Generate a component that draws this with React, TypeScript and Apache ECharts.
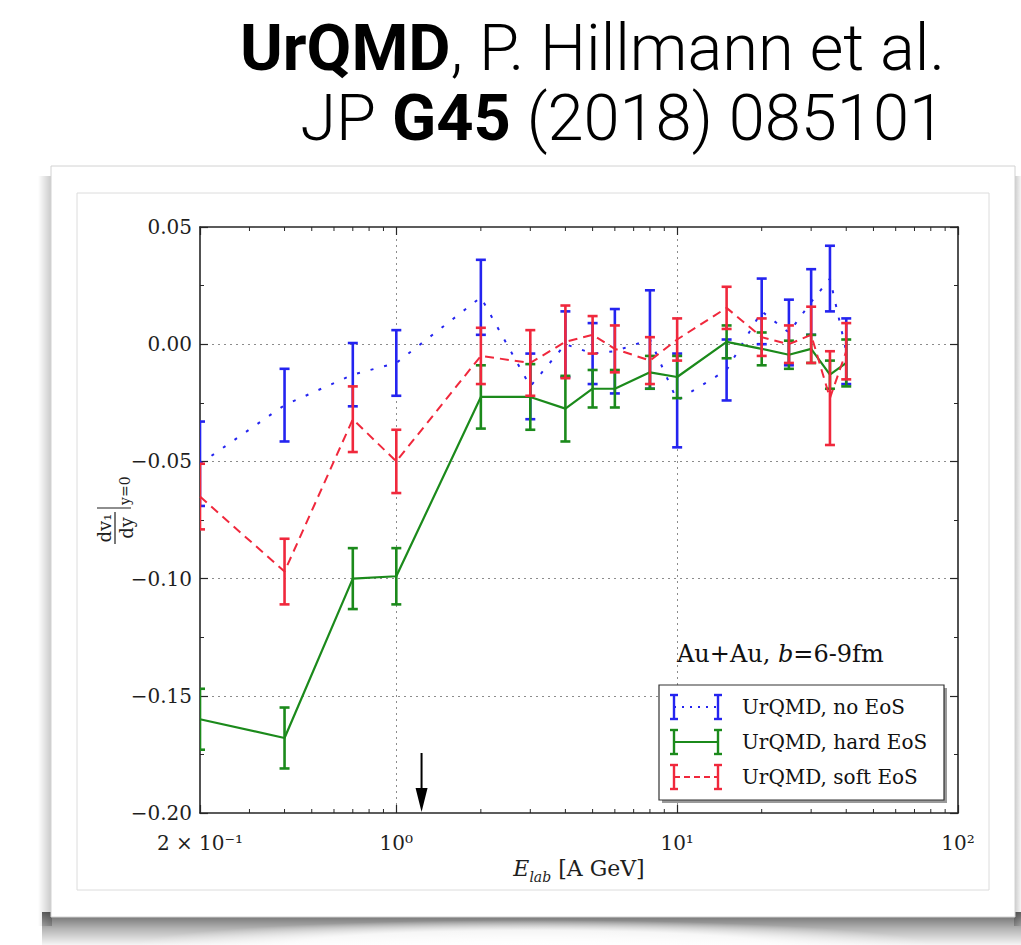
import { useEffect, useRef } from "react";
import * as echarts from "echarts";

// Beam energies (A GeV) of the simulated points
const energies = [0.2, 0.4, 0.7, 1.0, 2.0, 3.0, 4.0, 5.0, 6.0, 8.0, 10, 15, 20, 25, 30, 35, 40];

// dv1/dy at midrapidity, UrQMD cascade without potentials
const noEosValues = [-0.051, -0.026, -0.013, -0.008, 0.02, -0.018, 0.0, -0.004, -0.003, 0.002, -0.024, -0.011, 0.014, 0.005, 0.018, 0.028, -0.003];
const noEosErrors = [0.018, 0.0155, 0.0135, 0.014, 0.016, 0.014, 0.014, 0.013, 0.018, 0.021, 0.02, 0.013, 0.014, 0.014, 0.014, 0.014, 0.014];

// hard equation of state
const hardEosValues = [-0.16, -0.168, -0.1, -0.099, -0.0225, -0.0225, -0.0275, -0.019, -0.019, -0.012, -0.014, 0.001, -0.002, -0.0045, -0.002, -0.013, -0.008];
const hardEosErrors = [0.013, 0.013, 0.013, 0.012, 0.0135, 0.014, 0.014, 0.008, 0.008, 0.007, 0.009, 0.007, 0.007, 0.006, 0.006, 0.006, 0.01];

// soft equation of state
const softEosValues = [-0.065, -0.097, -0.032, -0.05, -0.005, -0.008, 0.001, 0.004, -0.002, -0.007, 0.002, 0.0155, 0.003, 0.0, 0.004, -0.023, -0.003];
const softEosErrors = [0.014, 0.014, 0.014, 0.0135, 0.012, 0.014, 0.0155, 0.008, 0.01, 0.01, 0.009, 0.009, 0.008, 0.008, 0.012, 0.02, 0.012];

// axis ranges and tick labels
const xMin = 0.2;
const xMax = 100;
const yMin = -0.2;
const yMax = 0.05;
const yStep = 0.05;
const xTickValues = [0.2, 1, 10, 100];
const xTickLabels = ["2 × 10⁻¹", "10⁰", "10¹", "10²"];
const xMinorTicks = [0.3, 0.4, 0.5, 0.6, 0.7, 0.8, 0.9, 2, 3, 4, 5, 6, 7, 8, 9, 20, 30, 40, 50, 60, 70, 80, 90];

// marked beam energy
const arrowEnergy = [1.23];

const legendLabels = ["UrQMD, no EoS", "UrQMD, hard EoS", "UrQMD, soft EoS"];

const BLUE = "#2424f0";
const GREEN = "#1b8a1b";
const RED = "#f0283c";
const INK = "#262626";
const SERIF = "DejaVu Serif";

function errorBars(color: string) {
  return (_params: any, api: any) => {
    const x = api.value(0);
    const y = api.value(1);
    const e = api.value(2);
    const top = api.coord([x, y + e]);
    const bot = api.coord([x, y - e]);
    const cap = 5;
    const style = { stroke: color, lineWidth: 2.6 };
    return {
      type: "group",
      children: [
        { type: "line", shape: { x1: top[0], y1: top[1], x2: bot[0], y2: bot[1] }, style },
        { type: "line", shape: { x1: top[0] - cap, y1: top[1], x2: top[0] + cap, y2: top[1] }, style },
        { type: "line", shape: { x1: bot[0] - cap, y1: bot[1], x2: bot[0] + cap, y2: bot[1] }, style },
      ],
    };
  };
}

function legendGlyph(y: number, color: string, dash: any) {
  const x1 = 674;
  const x2 = 718;
  const h = 12;
  const style = { stroke: color, lineWidth: 2.4 };
  return [
    { type: "line", z: 20, shape: { x1, y1: y, x2, y2: y }, style: { stroke: color, lineWidth: 1.8, lineDash: dash } },
    { type: "line", z: 20, shape: { x1, y1: y - h, x2: x1, y2: y + h }, style },
    { type: "line", z: 20, shape: { x1: x1 - 4, y1: y - h, x2: x1 + 4, y2: y - h }, style },
    { type: "line", z: 20, shape: { x1: x1 - 4, y1: y + h, x2: x1 + 4, y2: y + h }, style },
    { type: "line", z: 20, shape: { x1: x2, y1: y - h, x2, y2: y + h }, style },
    { type: "line", z: 20, shape: { x1: x2 - 4, y1: y - h, x2: x2 + 4, y2: y - h }, style },
    { type: "line", z: 20, shape: { x1: x2 - 4, y1: y + h, x2: x2 + 4, y2: y + h }, style },
  ];
}

export default function App() {
  const ref = useRef<HTMLDivElement>(null);

  useEffect(() => {
    if (!ref.current) return;
    const chart = echarts.init(ref.current, undefined, { renderer: "svg" });

    const pts = (vals: number[]) => energies.map((x, i) => [x, vals[i]]);
    const bars = (vals: number[], errs: number[]) => energies.map((x, i) => [x, vals[i], errs[i]]);

    const xLabel = (v: number) => {
      const i = xTickValues.findIndex((t) => Math.abs(Math.log10(v) - Math.log10(t)) < 1e-6);
      return i >= 0 ? xTickLabels[i] : "";
    };
    const yLabel = (v: number) => {
      if (Math.abs(v) < 1e-9) return "0.00";
      return (v < 0 ? "−" : "") + Math.abs(v).toFixed(2);
    };

    const frameLine = { show: true, onZero: false, lineStyle: { color: INK, width: 1.6 } };
    const tick = { show: true, inside: true, length: 8, lineStyle: { color: INK, width: 1.2 } };
    const grid = { show: true, showMinLine: false, showMaxLine: false, lineStyle: { color: "#8c8c8c", width: 1, type: [2, 4] } };

    const legendRows = [
      { y: 707, color: BLUE, dash: [2, 6] },
      { y: 742, color: GREEN, dash: null },
      { y: 777, color: RED, dash: [6, 4] },
    ];

    const headingRich = {
      b: { fontFamily: "Roboto", fontWeight: "bold", fontSize: 65, fill: "#000" },
      r: { fontFamily: "Roboto", fontWeight: 300, fontSize: 65, fill: "#000" },
    };

    const option: any = {
      animation: false,
      backgroundColor: "#ffffff",
      grid: { left: 200, top: 227, width: 758, height: 586 },
      xAxis: [
        {
          type: "log",
          logBase: 10,
          min: xMin,
          max: xMax,
          position: "bottom",
          axisLine: frameLine,
          axisTick: tick,
          axisLabel: {
            formatter: xLabel,
            margin: 20,
            showMinLabel: true,
            showMaxLabel: true,
            fontFamily: SERIF,
            fontSize: 20,
            color: "#1e1e1e",
          },
          splitLine: grid,
          name: "{i|E}{s|lab}{n| [A GeV]}",
          nameLocation: "middle",
          nameGap: 40,
          nameTextStyle: {
            rich: {
              i: { fontFamily: SERIF, fontStyle: "italic", fontSize: 22, color: "#1e1e1e", lineHeight: 30 },
              s: { fontFamily: SERIF, fontStyle: "italic", fontSize: 14, color: "#1e1e1e", lineHeight: 30, verticalAlign: "bottom" },
              n: { fontFamily: SERIF, fontSize: 22, color: "#1e1e1e", lineHeight: 30 },
            },
          },
        },
        {
          type: "log",
          logBase: 10,
          min: xMin,
          max: xMax,
          position: "top",
          axisLine: frameLine,
          axisTick: tick,
          axisLabel: { show: false },
          splitLine: { show: false },
        },
      ],
      yAxis: [
        {
          type: "value",
          min: yMin,
          max: yMax,
          interval: yStep,
          position: "left",
          axisLine: frameLine,
          axisTick: tick,
          minorTick: { show: true, splitNumber: 2, length: 4, lineStyle: { color: INK, width: 1 } },
          axisLabel: {
            formatter: yLabel,
            margin: 8,
            fontFamily: SERIF,
            fontSize: 20,
            color: "#1e1e1e",
          },
          splitLine: grid,
        },
        {
          type: "value",
          min: yMin,
          max: yMax,
          interval: yStep,
          position: "right",
          axisLine: frameLine,
          axisTick: tick,
          minorTick: { show: true, splitNumber: 2, length: 4, lineStyle: { color: INK, width: 1 } },
          axisLabel: { show: false },
          splitLine: { show: false },
        },
      ],
      graphic: [
        // photo card with its drop shadow
        {
          type: "rect",
          z: -5,
          silent: true,
          shape: { x: 38, y: 176, width: 14, height: 750 },
          style: {
            fill: { type: "linear", x: 0, y: 0, x2: 1, y2: 0, colorStops: [{ offset: 0, color: "rgba(0,0,0,0)" }, { offset: 1, color: "rgba(0,0,0,0.22)" }] },
          },
        },
        {
          type: "rect",
          z: -5,
          silent: true,
          shape: { x: 1014, y: 176, width: 7, height: 750 },
          style: {
            fill: { type: "linear", x: 0, y: 0, x2: 1, y2: 0, colorStops: [{ offset: 0, color: "rgba(0,0,0,0.22)" }, { offset: 1, color: "rgba(0,0,0,0.04)" }] },
          },
        },
        {
          type: "rect",
          z: -5,
          silent: true,
          shape: { x: 42, y: 912, width: 979, height: 33 },
          style: {
            fill: { type: "linear", x: 0, y: 0, x2: 0, y2: 1, colorStops: [{ offset: 0, color: "rgba(0,0,0,0.62)" }, { offset: 0.5, color: "rgba(0,0,0,0.3)" }, { offset: 1, color: "rgba(0,0,0,0.04)" }] },
          },
        },
        {
          type: "ellipse",
          z: -4,
          silent: true,
          shape: { cx: 533, cy: 946, rx: 400, ry: 26 },
          style: {
            fill: { type: "radial", x: 0.5, y: 0.5, r: 0.5, colorStops: [{ offset: 0, color: "rgba(255,255,255,1)" }, { offset: 0.6, color: "rgba(255,255,255,0.85)" }, { offset: 1, color: "rgba(255,255,255,0)" }] },
          },
        },
        {
          type: "rect",
          z: -3,
          silent: true,
          shape: { x: 51, y: 166, width: 964, height: 751 },
          style: { fill: "#ffffff", stroke: "#d2d2d2", lineWidth: 1 },
        },
        {
          type: "rect",
          z: -2,
          silent: true,
          shape: { x: 77, y: 193, width: 912, height: 697 },
          style: { fill: "#ffffff", stroke: "#dcdcdc", lineWidth: 1 },
        },
        // citation heading
        {
          type: "text",
          z: 5,
          x: 945,
          y: 48,
          style: { text: "{b|UrQMD}{r|, P. Hillmann et al.}", align: "right", verticalAlign: "middle", rich: headingRich },
        },
        {
          type: "text",
          z: 5,
          x: 945,
          y: 118,
          style: { text: "{r|JP }{b|G45}{r| (2018) 085101}", align: "right", verticalAlign: "middle", rich: headingRich },
        },
        // y axis title: dv1/dy at y = 0, rotated
        {
          type: "group",
          x: 115,
          y: 528,
          rotation: Math.PI / 2,
          z: 5,
          children: [
            { type: "text", x: 0, y: -11, style: { text: "dv₁", fontFamily: SERIF, fontSize: 18, fill: "#1e1e1e", align: "center", verticalAlign: "middle" } },
            { type: "line", shape: { x1: -16, y1: 0, x2: 16, y2: 0 }, style: { stroke: "#1e1e1e", lineWidth: 1.2 } },
            { type: "text", x: 0, y: 11, style: { text: "dy", fontFamily: SERIF, fontSize: 18, fill: "#1e1e1e", align: "center", verticalAlign: "middle" } },
            { type: "line", shape: { x1: 20, y1: -18, x2: 20, y2: 16 }, style: { stroke: "#1e1e1e", lineWidth: 1.2 } },
            { type: "text", x: 23, y: 10, style: { text: "y=0", fontFamily: SERIF, fontSize: 14, fill: "#1e1e1e", align: "left", verticalAlign: "middle" } },
          ],
        },
        // collision system annotation
        {
          type: "text",
          z: 20,
          x: 677,
          y: 654,
          style: {
            text: "{n|Au+Au, }{i|b}{n|=6-9fm}",
            align: "left",
            verticalAlign: "middle",
            rich: {
              n: { fontFamily: SERIF, fontSize: 24, fill: "#111" },
              i: { fontFamily: SERIF, fontStyle: "italic", fontSize: 24, fill: "#111" },
            },
          },
        },
        // legend frame
        {
          type: "rect",
          z: 18,
          shape: { x: 662, y: 688, width: 285, height: 115 },
          style: { fill: "#9a9a9a" },
        },
        {
          type: "rect",
          z: 19,
          shape: { x: 659, y: 685, width: 285, height: 115 },
          style: { fill: "#ffffff", stroke: "#333", lineWidth: 1.2 },
        },
        ...legendRows.flatMap((r) => legendGlyph(r.y, r.color, r.dash)),
        ...legendRows.map((r, i) => ({
          type: "text",
          z: 20,
          x: 742,
          y: r.y,
          style: { text: legendLabels[i], fontFamily: SERIF, fontSize: 20, fill: "#111", align: "left", verticalAlign: "middle" },
        })),
      ],
      series: [
        {
          name: legendLabels[0],
          type: "line",
          data: pts(noEosValues),
          showSymbol: false,
          lineStyle: { color: BLUE, width: 2, type: [3, 11] },
          z: 3,
        },
        {
          type: "custom",
          data: bars(noEosValues, noEosErrors),
          renderItem: errorBars(BLUE),
          encode: { x: 0, y: 1 },
          clip: true,
          z: 3,
        },
        {
          name: legendLabels[1],
          type: "line",
          data: pts(hardEosValues),
          showSymbol: false,
          lineStyle: { color: GREEN, width: 2.2, type: "solid" },
          z: 4,
        },
        {
          type: "custom",
          data: bars(hardEosValues, hardEosErrors),
          renderItem: errorBars(GREEN),
          encode: { x: 0, y: 1 },
          clip: true,
          z: 4,
        },
        {
          name: legendLabels[2],
          type: "line",
          data: pts(softEosValues),
          showSymbol: false,
          lineStyle: { color: RED, width: 2, type: [9, 6] },
          z: 5,
        },
        {
          type: "custom",
          data: bars(softEosValues, softEosErrors),
          renderItem: errorBars(RED),
          encode: { x: 0, y: 1 },
          clip: true,
          z: 5,
        },
        // logarithmic minor ticks on bottom and top frame
        {
          type: "custom",
          data: xMinorTicks.map((v) => [v, yMin]),
          encode: { x: 0, y: 1 },
          silent: true,
          z: 6,
          renderItem: (_p: any, api: any) => {
            const v = api.value(0);
            const b = api.coord([v, yMin]);
            const t = api.coord([v, yMax]);
            const style = { stroke: INK, lineWidth: 1 };
            return {
              type: "group",
              children: [
                { type: "line", shape: { x1: b[0], y1: b[1], x2: b[0], y2: b[1] - 4 }, style },
                { type: "line", shape: { x1: t[0], y1: t[1], x2: t[0], y2: t[1] + 4 }, style },
              ],
            };
          },
        },
        // arrow marking a beam energy
        {
          type: "custom",
          data: arrowEnergy.map((v) => [v, yMin]),
          encode: { x: 0, y: 1 },
          silent: true,
          z: 7,
          renderItem: (_p: any, api: any) => {
            const p = api.coord([api.value(0), yMin]);
            return {
              type: "group",
              children: [
                { type: "line", shape: { x1: p[0], y1: p[1] - 60, x2: p[0], y2: p[1] - 20 }, style: { stroke: "#000", lineWidth: 2 } },
                { type: "polygon", shape: { points: [[p[0] - 6, p[1] - 25], [p[0] + 6, p[1] - 25], [p[0], p[1] - 1]] }, style: { fill: "#000" } },
              ],
            };
          },
        },
      ],
    };

    chart.setOption(option);
    return () => chart.dispose();
  }, []);

  return <div ref={ref} style={{ position: "absolute", left: 0, top: 0, width: 1021, height: 945 }} />;
}
